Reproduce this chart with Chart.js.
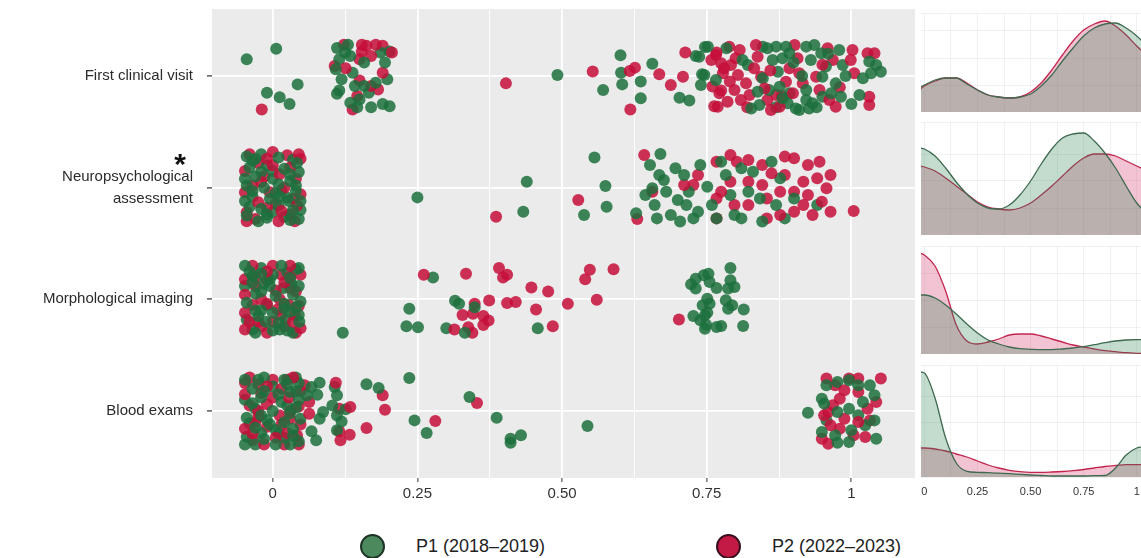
<!DOCTYPE html>
<html>
<head>
<meta charset="utf-8">
<script src="https://cdn.jsdelivr.net/npm/chart.js@4.4.1/dist/chart.umd.min.js"></script>
<style>
  body { margin: 0; width: 1141px; height: 558px; overflow: hidden; background: #fff; position: relative;
         font-family: 'Liberation Sans', Arial, sans-serif; }
  canvas { position: absolute; }
  .lg { position: absolute; top: 534px; height: 24px; display: flex; align-items: center; font-size: 18px; color: #222; }
  .dot { width: 21px; height: 21px; border-radius: 50%; border: 2px solid #1d3325; margin-right: 31px; }
  .g { background: #4c8a5e; }
  .r { background: #c21a45; border-color: #3a0f1f; }
</style>
</head>
<body>
<canvas id="main" width="915" height="510" style="left:0;top:0"></canvas>
<canvas id="d1" width="220" height="99" style="left:921px;top:13px"></canvas>
<canvas id="d2" width="220" height="113" style="left:921px;top:122px"></canvas>
<canvas id="d3" width="220" height="108" style="left:921px;top:246px"></canvas>
<canvas id="d4" width="220" height="135" style="left:921px;top:365px"></canvas>
<div class="lg" style="left:360px"><span class="dot g"></span><span>P1 (2018–2019)</span></div>
<div class="lg" style="left:716px"><span class="dot r"></span><span>P2 (2022–2023)</span></div>
<script>
// categories (top to bottom) and x ticks
const categories = ['First clinical visit', ['Neuropsychological', 'assessment'], 'Morphological imaging', 'Blood exams'];
const xTickValues = [0, 0.25, 0.5, 0.75, 1];
const xTickLabels = ['0', '0.25', '0.50', '0.75', '1'];
const gridX = [0, 0.125, 0.25, 0.375, 0.5, 0.625, 0.75, 0.875, 1];

// jittered points per row: [value, vertical jitter]
const p1First = [[-0.045,-0.15],[0.006,-0.245],[-0.010,0.15],[0.012,0.19],[0.029,0.25],[0.043,0.075],
  [0.111,-0.25],[0.115,-0.15],[0.109,-0.06],[0.119,0.03],[0.115,0.13],[0.111,0.16],[0.134,-0.18],[0.138,-0.03],
  [0.142,0.09],[0.15,0.21],[0.146,0.28],[0.17,0.28],[0.178,0.06],[0.186,-0.21],[0.194,-0.12],[0.198,0.03],
  [0.202,0.27],[0.202,-0.22],[0.158,-0.12],[0.166,0.15],[0.134,0.24],[0.125,-0.21],[0.19,0.25],[0.13,-0.28],[0.158,0.09],
  [0.492,-0.01],[0.601,-0.185],[0.602,-0.03],[0.604,0.075],[0.571,0.125],[0.636,0.05],[0.636,0.2],[0.656,-0.11],
  [0.703,0.195],[0.72,0.22],[0.731,-0.18],[0.747,-0.26],[0.742,-0.015],
  [0.752,-0.263],[0.737,-0.173],[0.746,-0.009],[0.740,0.081],[0.766,0.036],[0.784,-0.248],[0.812,-0.144],[0.821,-0.099],
  [0.827,0.290],[0.847,-0.263],[0.855,-0.248],[0.870,-0.263],[0.864,-0.144],[0.873,-0.039],[0.881,-0.159],[0.887,-0.263],
  [0.893,-0.203],[0.922,-0.263],[0.930,-0.144],[0.936,-0.278],[0.948,-0.203],[0.956,-0.084],[0.950,0.006],[0.876,0.096],
  [0.881,0.200],[0.890,0.245],[0.904,0.290],[0.922,0.215],[0.933,0.245],[0.950,0.185],[0.965,0.155],[0.973,0.066],
  [0.979,-0.233],[0.985,-0.099],[0.910,0.305],[0.927,0.290],[0.841,0.260],[0.858,0.125],[0.838,0.140],[1.014,0.170],
  [1.031,-0.129],[1.043,-0.099],[1.051,-0.039],[1.034,-0.024],[0.982,0.185],[0.893,0.155],[0.922,0.125],[0.847,0.021],
  [0.96,-0.2],[0.99,0.0],[1.0,0.25],[0.915,0.0],[0.9,-0.12],[0.87,0.28],[0.94,0.28],[1.02,0.02]];
const p2First = [[-0.019,0.30],
  [0.123,-0.28],[0.154,-0.28],[0.162,-0.27],[0.178,-0.28],[0.19,-0.27],[0.206,-0.21],[0.107,-0.09],[0.126,-0.07],
  [0.15,0.04],[0.17,0.09],[0.182,0.12],[0.19,-0.03],[0.146,0.18],[0.138,0.3],[0.154,-0.22],[0.17,-0.18],[0.15,-0.15],
  [0.403,0.066],[0.553,-0.04],[0.617,-0.045],[0.626,-0.075],[0.618,0.30],[0.668,-0.015],[0.688,0.08],[0.709,0.006],[0.713,-0.21],
  [0.766,-0.188],[0.775,-0.114],[0.789,-0.263],[0.792,-0.099],[0.807,-0.233],[0.804,-0.009],[0.778,-0.024],[0.760,0.095],
  [0.772,0.155],[0.769,0.275],[0.786,0.230],[0.798,0.125],[0.809,0.215],[0.818,0.066],[0.824,0.170],[0.835,-0.278],
  [0.838,-0.173],[0.832,-0.069],[0.844,0.006],[0.850,0.111],[0.855,0.215],[0.861,0.305],[0.870,0.170],[0.876,0.275],
  [0.887,0.051],[0.893,-0.069],[0.902,-0.278],[0.907,-0.159],[0.910,-0.024],[0.899,0.155],[0.916,0.066],[0.939,0.006],
  [0.945,0.125],[0.959,-0.248],[0.968,-0.144],[0.962,0.215],[0.973,0.275],[1.002,-0.233],[1.005,-0.024],[0.999,-0.144],
  [1.028,-0.203],[1.040,-0.203],[1.031,0.185],[1.031,0.260],[0.758,-0.144],[0.763,0.27],[0.775,0.13],[0.767,-0.21],
  [0.8,-0.16],[0.82,0.28],[0.78,-0.07],[0.86,-0.05],[0.88,0.18],[0.95,-0.1],[0.98,0.1],[0.79,0.05]];

const p1Neuro = [[-0.045,-0.28],[-0.02,-0.3],[0.01,-0.27],[0.035,-0.25],[-0.04,-0.18],[-0.01,-0.2],[0.02,-0.17],[0.045,-0.14],
  [-0.03,-0.1],[0,-0.08],[0.03,-0.06],[-0.045,-0.02],[-0.015,0.0],[0.015,0.02],[0.04,0.03],[-0.035,0.08],[-0.005,0.1],
  [0.025,0.09],[0.048,0.12],[-0.04,0.17],[-0.02,0.19],[0.01,0.16],[0.035,0.2],[-0.045,0.25],[-0.01,0.27],[0.02,0.26],
  [0.045,0.28],[-0.025,0.3],[0.005,0.05],[-0.02,-0.14],[0.042,-0.22],[0.0,0.22],[-0.035,-0.24],[0.028,0.12],[0.01,-0.03],[-0.048,0.12],
  [-0.03,-0.26],[0.0,-0.15],[0.03,-0.12],[-0.035,0.03],[0.012,0.08],[0.04,-0.02],[-0.01,0.24],[0.03,0.29],[-0.048,-0.08],[0.048,0.2],
  [0.25,0.087],[0.439,-0.054],[0.433,0.215],[0.556,-0.27],[0.575,-0.015],[0.577,0.17],[0.538,0.245],[0.628,0.23],
  [0.652,-0.203],[0.668,-0.113],[0.656,0.006],[0.660,0.155],[0.664,0.275],[0.680,0.036],[0.676,-0.069],[0.696,-0.173],
  [0.700,0.110],[0.688,0.245],[0.711,-0.113],[0.719,0.036],[0.715,0.155],[0.727,0.275],[0.739,-0.203],[0.751,-0.009],
  [0.759,0.155],[0.775,-0.233],[0.783,-0.113],[0.791,0.066],[0.798,0.245],[0.810,0.275],[0.822,0.036],[0.830,-0.143],
  [0.846,0.304],[0.862,-0.233],[0.870,0.155],[0.885,0.275],[0.670,-0.301],[0.644,0.066],[0.704,0.304],[0.735,0.215],
  [0.767,0.275],[0.810,-0.173],[0.842,0.096],[0.877,-0.084],[0.901,0.096],[0.941,0.155]];
const p2Neuro = [[-0.04,-0.3],[-0.025,-0.22],[0.0,-0.32],[0.025,-0.29],[0.048,-0.26],[-0.048,-0.15],[0.012,-0.12],[0.04,-0.08],
  [-0.02,-0.05],[-0.048,0.04],[0.02,0.0],[0.048,0.06],[-0.025,0.13],[0.005,0.14],[0.042,0.16],[-0.045,0.22],[0.015,0.21],
  [-0.03,0.28],[0.01,0.3],[0.038,0.3],[-0.01,-0.26],[0.03,0.24],[-0.005,0.04],
  [-0.015,-0.1],[0.03,-0.18],[-0.035,-0.02],[0.0,-0.2],[0.035,0.1],[-0.01,0.18],[-0.045,0.3],[0.045,-0.3],
  [0.386,0.26],[0.528,0.11],[0.63,0.28],
  [0.642,-0.293],[0.767,-0.233],[0.791,-0.293],[0.802,-0.233],[0.822,-0.248],[0.846,-0.203],[0.885,-0.278],[0.901,-0.263],
  [0.925,-0.203],[0.945,-0.233],[0.964,-0.113],[0.941,-0.084],[0.917,-0.054],[0.885,-0.113],[0.862,-0.128],[0.846,-0.024],
  [0.822,-0.054],[0.791,-0.054],[0.775,0.036],[0.877,0.036],[0.901,0.036],[0.925,0.066],[0.949,0.125],[0.964,0.215],
  [0.933,0.245],[0.901,0.215],[0.877,0.245],[0.854,0.275],[0.822,0.155],[0.798,0.155],[0.767,0.096],[0.854,0.096],
  [0.735,-0.113],[0.727,-0.024],[0.767,0.275],[0.957,0.006],[1.004,0.209],[0.656,0.036],[0.711,-0.024],[0.917,0.155]];

const p1Morph = [[-0.048,-0.3],[-0.02,-0.28],[0.015,-0.3],[0.04,-0.27],[-0.035,-0.21],[0.0,-0.22],[0.03,-0.19],[-0.048,-0.12],
  [-0.015,-0.14],[0.018,-0.1],[0.045,-0.12],[-0.03,-0.05],[0.005,-0.03],[0.035,-0.04],[-0.045,0.03],[-0.01,0.05],[0.02,0.04],
  [0.048,0.02],[-0.03,0.1],[0.0,0.12],[0.03,0.11],[-0.045,0.18],[-0.012,0.2],[0.022,0.18],[0.046,0.2],[-0.035,0.27],
  [0.0,0.28],[0.035,0.3],[-0.02,-0.07],[0.01,0.21],[-0.04,-0.25],[0.025,-0.24],[0.04,0.07],[-0.005,-0.18],[-0.025,0.15],[0.012,0.27],
  [-0.02,-0.23],[0.045,-0.28],[-0.035,-0.15],[0.032,-0.14],[-0.005,-0.12],[0.02,0.08],[-0.02,0.1],[0.045,0.14],[-0.03,0.3],[0.025,0.28],
  [0.121,0.3],[0.277,-0.195],[0.315,0.012],[0.322,0.04],[0.236,0.085],[0.231,0.24],[0.251,0.25],[0.3,0.26],[0.332,0.3],
  [0.458,0.26],[0.349,0.07],
  [0.723,-0.134],[0.731,-0.185],[0.745,-0.215],[0.755,-0.155],[0.753,-0.23],[0.767,-0.101],[0.791,-0.28],[0.791,-0.17],
  [0.798,-0.11],[0.787,-0.096],[0.731,-0.096],[0.727,0.149],[0.739,0.188],[0.747,0.263],[0.749,0.227],[0.767,0.248],
  [0.775,0.239],[0.751,0.119],[0.755,0.039],[0.751,-0.006],[0.783,0.009],[0.787,0.084],[0.794,0.054],[0.814,0.09],
  [0.813,0.239],[0.743,0.054],[0.747,0.143]];
const p2Morph = [[-0.035,-0.3],[0.0,-0.3],[0.03,-0.3],[0.048,-0.22],[-0.048,-0.18],[-0.01,-0.17],[0.02,-0.15],[-0.03,-0.12],
  [0.005,-0.08],[0.04,-0.07],[-0.048,-0.04],[-0.02,0.0],[0.012,0.0],[0.045,0.06],[-0.035,0.05],[0.008,0.09],[-0.048,0.12],
  [0.038,0.14],[-0.02,0.24],[0.015,0.14],[-0.048,0.27],[0.02,0.24],[0.048,0.26],[-0.01,0.3],[0.03,-0.2],[-0.025,0.2],
  [-0.01,-0.25],[0.015,-0.22],[-0.03,-0.2],[0.03,-0.1],[-0.01,0.04],[0.028,0.05],[-0.04,0.2],[0.0,0.2],[0.035,0.2],[0.04,0.3],
  [0.261,-0.22],[0.334,-0.23],[0.391,-0.28],[0.398,-0.195],[0.405,-0.22],[0.447,-0.105],[0.476,-0.07],[0.54,-0.18],
  [0.548,-0.265],[0.589,-0.27],[0.56,0.003],[0.349,0.04],[0.374,0.01],[0.405,0.033],[0.42,0.024],[0.455,0.09],[0.51,0.04],
  [0.328,0.14],[0.346,0.13],[0.364,0.15],[0.373,0.19],[0.364,0.23],[0.338,0.25],[0.345,0.3],[0.314,0.27],[0.484,0.24],[0.702,0.18]];

const p1Blood = [[-0.048,-0.28],[-0.015,-0.3],[0.02,-0.28],[0.045,-0.25],[-0.035,-0.2],[0.0,-0.22],[0.03,-0.17],[-0.048,-0.1],
  [-0.02,-0.12],[0.015,-0.08],[0.045,-0.1],[-0.03,-0.02],[0.0,0.0],[0.03,0.02],[-0.045,0.06],[-0.01,0.08],[0.02,0.1],
  [0.048,0.07],[-0.03,0.15],[0.005,0.17],[0.035,0.16],[-0.045,0.23],[-0.015,0.25],[0.02,0.24],[0.045,0.27],[-0.03,0.3],
  [0.005,0.3],[0.03,0.3],[0.01,-0.15],[-0.04,0.11],[0.04,-0.03],[-0.02,0.2],[0.025,-0.24],[-0.005,0.12],
  [-0.025,-0.28],[0.04,-0.3],[-0.015,-0.18],[0.04,-0.18],[-0.035,-0.07],[0.025,-0.05],[-0.02,0.04],[0.01,0.2],[0.035,0.22],[-0.048,0.3],
  [0.081,-0.254],[0.067,-0.215],[0.077,-0.146],[0.107,-0.215],[0.111,-0.14],[0.103,-0.05],[0.111,0.04],[0.126,-0.015],
  [0.119,0.093],[0.111,0.173],[0.081,0.069],[0.067,0.182],[0.075,0.263],[0.162,-0.239],[0.183,-0.206],[0.236,-0.296],
  [0.245,0.084],[0.266,0.197],[0.34,-0.125],[0.387,0.06],[0.411,0.248],[0.411,0.284],[0.429,0.218],[0.544,0.134],
  [0.059,-0.14],[0.087,0.009],
  [0.925,0.015],[0.949,-0.11],[0.957,-0.23],[0.976,-0.26],[0.996,-0.275],[1.012,-0.23],[1.032,-0.23],[1.04,-0.14],
  [1.02,-0.081],[0.996,-0.021],[0.976,0.009],[0.957,0.084],[0.949,0.188],[0.972,0.218],[1.0,0.173],[1.024,0.128],
  [1.04,0.084],[1.043,0.248],[0.996,0.278],[0.976,0.284],[0.953,-0.066],[1.012,0.039]];
const p2Blood = [[-0.04,-0.3],[0.0,-0.28],[0.035,-0.3],[-0.025,-0.24],[0.015,-0.2],[0.048,-0.18],[-0.048,-0.15],[-0.01,-0.06],
  [0.028,-0.12],[-0.04,-0.05],[0.045,-0.04],[0.012,0.04],[-0.025,0.05],[0.048,0.12],[-0.048,0.16],[-0.01,0.14],[0.025,0.2],
  [-0.035,0.26],[0.005,0.24],[0.042,0.22],[-0.015,0.3],[0.02,0.3],[-0.02,-0.16],[0.03,0.07],
  [-0.048,-0.25],[0.025,-0.28],[-0.01,-0.22],[0.0,-0.12],[-0.025,0.0],[0.03,0.0],[-0.03,0.1],[0.015,0.12],[-0.035,0.2],[0.045,0.3],
  [0.109,-0.254],[0.115,-0.021],[0.134,-0.036],[0.115,0.182],[0.117,0.263],[0.133,0.212],[0.063,0.024],[0.19,-0.14],
  [0.194,-0.012],[0.162,0.152],[0.281,0.09],[0.353,-0.072],[0.063,-0.08],[0.055,-0.23],
  [0.957,-0.29],[0.972,-0.23],[0.988,-0.185],[1.012,-0.29],[1.051,-0.29],[1.043,-0.081],[1.028,-0.021],[1.012,-0.17],
  [0.98,-0.11],[0.968,-0.051],[0.96,0.009],[0.988,0.069],[1.012,0.099],[1.032,0.084],[0.964,0.128],[0.98,0.158],
  [0.949,0.248],[0.96,0.293],[1.004,0.218],[1.024,0.233],[0.953,0.039],[0.996,-0.29]];

const p1Rows = [p1First, p1Neuro, p1Morph, p1Blood];
const p2Rows = [p2First, p2Neuro, p2Morph, p2Blood];

// density curves (height above baseline)
const densX = [-0.02, 0, 0.05, 0.1, 0.15, 0.2, 0.25, 0.3, 0.35, 0.4, 0.45, 0.5, 0.55, 0.6, 0.65, 0.7, 0.75, 0.8, 0.85, 0.9, 0.95, 1, 1.03];
const densFirstP1 = [25, 27, 32, 34, 34, 28, 22, 17, 15, 14, 15, 18, 26, 37, 51, 64, 76, 84, 88, 89, 84, 76, 70];
const densFirstP2 = [23, 26, 31, 34, 34, 29, 22, 17, 15, 14, 15, 20, 29, 42, 57, 71, 82, 88, 91, 86, 77, 66, 60];
const densNeuroP1 = [87, 86, 79, 67, 53, 41, 32, 27, 26, 30, 40, 54, 71, 86, 97, 101, 102, 94, 82, 67, 49, 32, 25];
const densNeuroP2 = [69, 68, 64, 57, 49, 41, 33, 28, 26, 25, 27, 32, 40, 49, 59, 69, 77, 81, 81, 79, 74, 69, 66];
const densMorphP1 = [59, 59, 56, 49, 40, 30, 21, 14, 10, 7, 5.3, 4.7, 4.3, 4.3, 5, 6, 7.3, 9.3, 11.3, 13, 14, 14.3, 14.3];
const densMorphP2 = [101, 99, 88, 63, 29, 13, 10, 12, 15, 19, 20, 20, 18, 15, 12, 9, 7, 5, 3.3, 2.3, 1.3, 0.7, 0.5];
const densBloodP1 = [105, 104, 79, 39, 14, 5.7, 4.7, 4.3, 3.8, 3.3, 2.6, 2, 1.5, 1, 1, 1, 1, 1.3, 1.5, 9, 22, 29, 30];
const densBloodP2 = [29, 29, 28, 26, 23, 20, 16, 12, 9, 6.7, 5.3, 4.7, 4.7, 5, 5.5, 6.3, 7.5, 9, 10.5, 11.5, 12.3, 12.3, 12.3];

const FONT = "'Liberation Sans', Arial, sans-serif";
const GREEN = 'rgba(28,112,60,0.85)';
const RED = 'rgba(198,14,58,0.85)';

function toPoints(rows, parity) {
  const out = [];
  rows.forEach((row, i) => row.forEach((p, j) => {
    if (j % 2 === parity) out.push({ x: p[0], y: i + 1 + p[1] });
  }));
  return out;
}
const isMajor = v => xTickValues.indexOf(v) >= 0;

const panelBg = {
  id: 'panelBg',
  beforeDraw(chart) {
    const { ctx, chartArea: a } = chart;
    ctx.save();
    ctx.fillStyle = '#ebebeb';
    ctx.fillRect(a.left, a.top, a.width, a.height);
    ctx.restore();
  }
};
const star = {
  id: 'star',
  afterDraw(chart) {
    const ctx = chart.ctx;
    ctx.save();
    ctx.fillStyle = '#111';
    ctx.font = 'bold 30px ' + FONT;
    ctx.textAlign = 'center';
    ctx.textBaseline = 'alphabetic';
    ctx.fillText('*', 180, 174);
    ctx.restore();
  }
};

const ptStyle = c => ({ data: [], backgroundColor: c, borderWidth: 0, pointRadius: 6, pointHoverRadius: 6 });

new Chart(document.getElementById('main'), {
  type: 'scatter',
  data: {
    datasets: [
      { ...ptStyle(GREEN), label: 'P1 (2018–2019)', data: toPoints(p1Rows, 0) },
      { ...ptStyle(RED), label: 'P2 (2022–2023)', data: toPoints(p2Rows, 0) },
      { ...ptStyle(GREEN), label: 'P1 (2018–2019)', data: toPoints(p1Rows, 1) },
      { ...ptStyle(RED), label: 'P2 (2022–2023)', data: toPoints(p2Rows, 1) }
    ]
  },
  options: {
    responsive: false,
    animation: false,
    events: [],
    layout: { autoPadding: false, padding: { top: 9, left: 0, right: 0, bottom: 0 } },
    plugins: { legend: { display: false }, tooltip: { enabled: false } },
    scales: {
      x: {
        type: 'linear', min: -0.105, max: 1.11,
        afterBuildTicks: s => { s.ticks = gridX.map(v => ({ value: v })); },
        afterFit: s => { s.height = 32; s.paddingLeft = 0; s.paddingRight = 0; },
        border: { display: false },
        grid: {
          color: '#ffffff',
          lineWidth: c => isMajor(c.tick.value) ? 1.8 : 0.9,
          tickLength: 4,
          tickColor: c => isMajor(c.tick.value) ? '#333' : 'rgba(0,0,0,0)',
          tickWidth: 1
        },
        ticks: {
          color: '#333', font: { size: 15, family: FONT }, padding: 3, autoSkip: false, maxRotation: 0,
          callback: v => { const k = xTickValues.indexOf(v); return k < 0 ? '' : xTickLabels[k]; }
        }
      },
      y: {
        type: 'linear', min: 0.4, max: 4.6, reverse: true,
        afterBuildTicks: s => { s.ticks = [1, 2, 3, 4].map(v => ({ value: v })); },
        afterFit: s => { s.width = 212; s.paddingTop = 0; s.paddingBottom = 0; },
        border: { display: false },
        grid: { color: '#ffffff', lineWidth: 1.8, tickLength: 5, tickColor: '#333', tickWidth: 1.2 },
        ticks: { color: '#2b2b2b', font: { size: 15, family: FONT, lineHeight: 1.45 }, padding: 14,
                 callback: v => categories[v - 1] }
      }
    }
  },
  plugins: [panelBg, star]
});

function densityChart(id, g, r, ymax, showAxis) {
  new Chart(document.getElementById(id), {
    type: 'line',
    data: {
      datasets: [
        { data: densX.map((x, i) => ({ x, y: g[i] })), borderColor: '#3f6a50', backgroundColor: 'rgba(40,130,80,0.28)',
          fill: 'origin', borderWidth: 1.3, pointRadius: 0, cubicInterpolationMode: 'monotone' },
        { data: densX.map((x, i) => ({ x, y: r[i] })), borderColor: '#c2264e', backgroundColor: 'rgba(205,25,80,0.26)',
          fill: 'origin', borderWidth: 1.3, pointRadius: 0, cubicInterpolationMode: 'monotone' }
      ]
    },
    options: {
      responsive: false,
      animation: false,
      events: [],
      layout: { autoPadding: false, padding: 0 },
      plugins: { legend: { display: false }, tooltip: { enabled: false } },
      scales: {
        x: {
          type: 'linear', min: -0.016, max: 1.02,
          afterBuildTicks: s => { s.ticks = gridX.map(v => ({ value: v })); },
          afterFit: s => { s.height = showAxis ? 23 : 0; s.paddingLeft = 0; s.paddingRight = 0; },
          border: { display: false },
          grid: { color: 'rgba(0,0,0,0.055)', lineWidth: 1, drawTicks: false },
          ticks: {
            display: showAxis, color: '#333', font: { size: 11, family: FONT }, padding: 8, autoSkip: false, maxRotation: 0,
            callback: v => { const k = xTickValues.indexOf(v); return k < 0 ? '' : xTickLabels[k]; }
          }
        },
        y: {
          min: 0, max: ymax,
          afterFit: s => { s.width = 0; s.paddingTop = 0; s.paddingBottom = 0; },
          border: { display: false },
          grid: { color: 'rgba(0,0,0,0.055)', lineWidth: 1, drawTicks: false },
          ticks: { display: false, stepSize: 27 }
        }
      }
    }
  });
}

densityChart('d1', densFirstP1, densFirstP2, 99, false);
densityChart('d2', densNeuroP1, densNeuroP2, 113, false);
densityChart('d3', densMorphP1, densMorphP2, 108, false);
densityChart('d4', densBloodP1, densBloodP2, 112, true);
</script>
</body>
</html>
